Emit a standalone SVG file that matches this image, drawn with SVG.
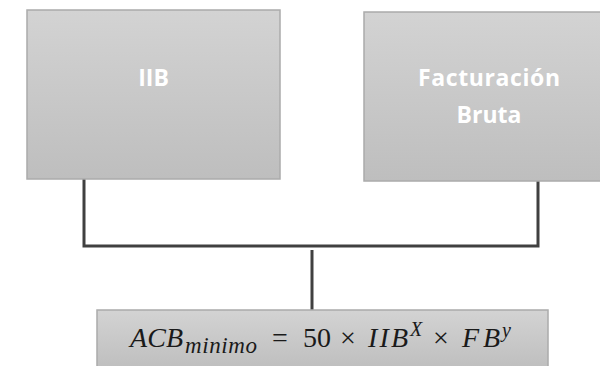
<svg xmlns="http://www.w3.org/2000/svg" width="600" height="366" viewBox="0 0 600 366">
<defs>
<linearGradient id="g" x1="0" y1="0" x2="0" y2="1">
<stop offset="0" stop-color="#d3d3d3"/>
<stop offset="1" stop-color="#bebebe"/>
</linearGradient>
<style>
.box{fill:url(#g);stroke:#ababab;stroke-width:1.5}
.lbl{font-family:"Open Sans","DejaVu Sans",sans-serif;font-weight:bold;font-size:23px;fill:#ffffff;text-anchor:middle}
.conn{fill:none;stroke:#404040;stroke-width:3}
.m{font-family:"Liberation Serif","DejaVu Serif",serif;font-size:28px;fill:#1a1a1a}
.i{font-style:italic}
</style>
</defs>
<rect width="600" height="366" fill="#ffffff"/>
<g id="connectors">
<path class="conn" d="M84,179 V246 H538 V181"/>
<path class="conn" d="M312,250 V310"/>
</g>
<g id="node-iib">
<rect class="box" x="27" y="10" width="253" height="169"/>
<text class="lbl" x="153.5" y="86">IIB</text>
</g>
<g id="node-fb">
<rect class="box" x="364" y="12" width="253" height="169"/>
<text class="lbl" x="489" y="86" textLength="142">Facturación</text>
<text class="lbl" x="489" y="123">Bruta</text>
</g>
<g id="node-acb">
<rect class="box" x="97" y="310" width="451" height="60"/>
<text class="m"><tspan class="i" x="130" y="347" textLength="53">ACB</tspan><tspan class="i" x="185" y="353" font-size="23" textLength="72">minimo</tspan><tspan x="272" y="347">=</tspan><tspan x="303" y="347">50</tspan><tspan x="340" y="347">×</tspan><tspan class="i" x="368" y="347" textLength="40">IIB</tspan><tspan class="i" x="410" y="336" font-size="20">X</tspan><tspan x="433" y="347">×</tspan><tspan class="i" x="462" y="347" textLength="38">FB</tspan><tspan class="i" x="502" y="337" font-size="20">y</tspan></text>
</g>
</svg>
